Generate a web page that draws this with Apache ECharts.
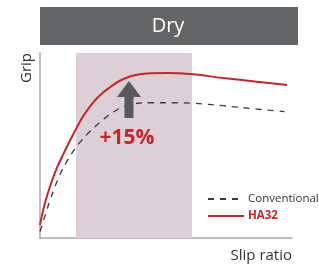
<!DOCTYPE html>
<html>
<head>
<meta charset="utf-8">
<script src="https://cdn.jsdelivr.net/npm/echarts@6/dist/echarts.min.js"></script>
<style>
  html, body { margin: 0; padding: 0; background: #fff; }
  #chart { width: 319px; height: 266px; }
</style>
</head>
<body>
<div id="chart"></div>
<script>
// slip ratio (0-100) and grip (0-100)
var slipHA32 = [0, 2, 4.5, 7, 9.5, 12, 14.5, 17.2, 21.2, 24.5, 27.8, 31.7, 35.7, 39.7, 43.7, 50, 60.7, 72.6, 86, 98];
var gripHA32 = [7, 19, 30, 38.8, 46, 53, 59.5, 66, 73.5, 78, 81.5, 85, 87.3, 88.5, 89, 89.2, 88.5, 86.5, 84.5, 82.7];
var slipConventional = [0, 2, 4, 6, 8, 10.5, 13, 16, 19, 22.5, 26.5, 30.5, 34, 38, 44, 53, 61, 72.6, 86, 97];
var gripConventional = [3.5, 12, 20.5, 28, 34.5, 41, 46.5, 52, 56.5, 61, 65.6, 69.2, 71.4, 72.7, 73.1, 73.1, 72.8, 71.5, 69.7, 68.3];
var shadeRange = [14.3, 60.3];

var red = '#c1272d';

function pairs(xs, ys) {
  return xs.map(function (x, i) { return [x, ys[i]]; });
}

var chart = echarts.init(document.getElementById('chart'));
chart.setOption({
  animation: false,
  grid: { left: 40, right: 27, top: 53, bottom: 28 },
  xAxis: {
    type: 'value', min: 0, max: 100,
    axisLine: { show: true, lineStyle: { color: '#a8a8a8', width: 1.5 } },
    axisTick: { show: false }, axisLabel: { show: false }, splitLine: { show: false }
  },
  yAxis: {
    type: 'value', min: 0, max: 100,
    axisLine: { show: true, lineStyle: { color: '#a8a8a8', width: 1.5 } },
    axisTick: { show: false }, axisLabel: { show: false }, splitLine: { show: false }
  },
  legend: {
    orient: 'vertical', left: 202, top: 188, itemWidth: 36, itemHeight: 10, itemGap: 5,
    itemStyle: { opacity: 0 },
    data: [
      { name: 'Conventional', textStyle: { color: '#333', fontWeight: 'normal' } },
      { name: 'HA32', textStyle: { color: red, fontWeight: 'bold' } }
    ],
    textStyle: { fontFamily: 'Open Sans', fontSize: 11.5, padding: [0, 0, 0, -1] }
  },
  series: [
    {
      name: 'Conventional', type: 'line', smooth: 0.4, symbol: 'none',
      data: pairs(slipConventional, gripConventional),
      lineStyle: { color: '#3a3a3a', width: 1.3, type: [6, 6] },
      itemStyle: { color: '#3a3a3a' },
      markArea: {
        silent: true,
        itemStyle: { color: '#dcd0d6' },
        data: [[{ xAxis: shadeRange[0] }, { xAxis: shadeRange[1] }]]
      },
      z: 3
    },
    {
      name: 'HA32', type: 'line', smooth: 0.4, symbol: 'none',
      data: pairs(slipHA32, gripHA32),
      lineStyle: { color: red, width: 2 },
      itemStyle: { color: red },
      z: 4
    }
  ],
  graphic: [
    { type: 'rect', shape: { x: 40, y: 7, width: 258, height: 38 }, style: { fill: '#636466' } },
    { type: 'text', x: 168, y: 26, style: { text: 'Dry', fill: '#fff', font: '20px "Open Sans"', align: 'center', verticalAlign: 'middle' } },
    { type: 'text', x: 27, y: 68, rotation: Math.PI / 2, style: { text: 'Grip', fill: '#333', font: '15px "Open Sans"', align: 'center', verticalAlign: 'middle' } },
    { type: 'text', x: 292, y: 256, style: { text: 'Slip ratio', fill: '#333', font: '15px "Open Sans"', align: 'right', verticalAlign: 'middle' } },
    { type: 'polygon', z: 10, shape: { points: [[129, 81], [117, 97], [124.5, 97], [124.5, 118], [133.5, 118], [133.5, 97], [141, 97]] }, style: { fill: '#58595b' } },
    { type: 'text', z: 10, x: 127, y: 138, style: { text: '+15%', fill: red, font: 'bold 21px "Open Sans"', align: 'center', verticalAlign: 'middle' } }
  ]
});
</script>
</body>
</html>
